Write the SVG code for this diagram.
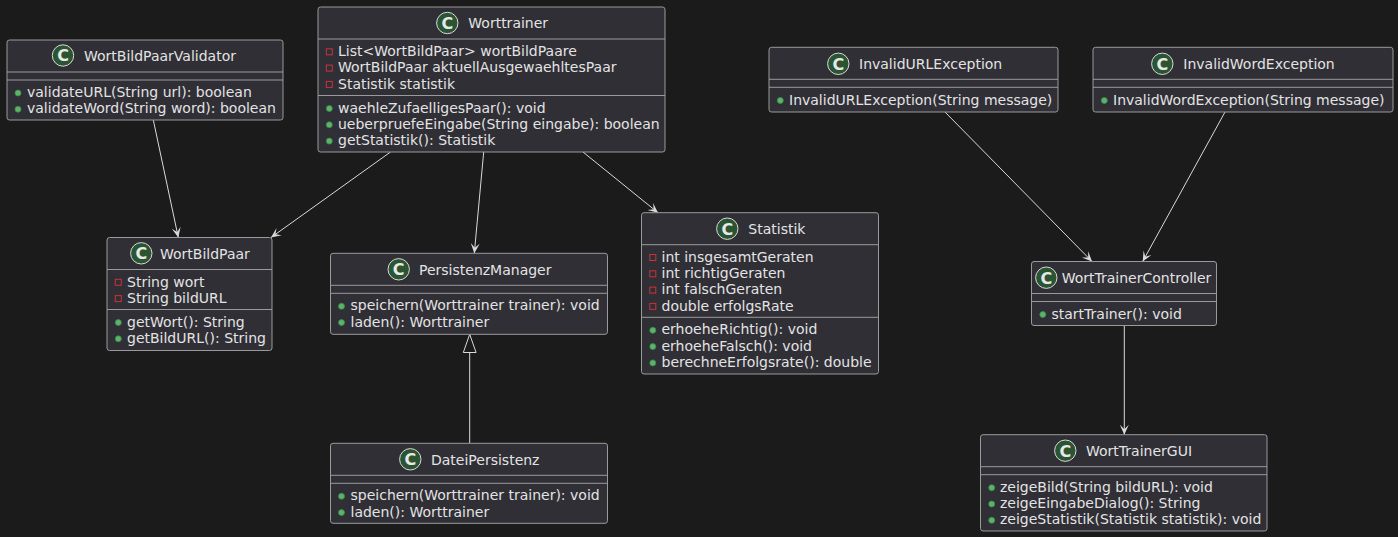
<svg xmlns="http://www.w3.org/2000/svg" width="1398" height="537" viewBox="0 0 1398 537">
<style>
.box{fill:#302f36;stroke:#9a9a9a;stroke-width:1}
.sep{stroke:#9a9a9a;stroke-width:1}
.t{font-family:"DejaVu Sans","Liberation Sans",sans-serif;font-size:14px;fill:#e3e3e3}
.spot{fill:#2b5532;stroke:#d8d8d8;stroke-width:1}
.sc{font-family:"DejaVu Sans","Liberation Sans",sans-serif;font-size:16px;font-weight:bold;fill:#e8e8e8;text-anchor:middle}
.pub{fill:#5cb36c;stroke:#3b8a4b;stroke-width:0.8}
.priv{fill:none;stroke:#c8323a;stroke-width:1}
.ln{stroke:#d9d9d9;stroke-width:1;fill:none}
</style>
<defs>
<marker id="arr" viewBox="0 0 11 10" refX="11" refY="5" markerWidth="11" markerHeight="10" markerUnits="userSpaceOnUse" orient="auto">
<path d="M11,5 L1,0.5 L5.5,5 L1,9.5 Z" fill="#d9d9d9"/>
</marker>
</defs>
<rect width="1398" height="537" fill="#1b1b1c"/>

<g id="connectors">
<line class="ln" x1="153.3" y1="120" x2="178.3" y2="237.5" marker-end="url(#arr)"/>
<line class="ln" x1="390.5" y1="152" x2="271" y2="237.5" marker-end="url(#arr)"/>
<line class="ln" x1="483.7" y1="152" x2="474.3" y2="253.3" marker-end="url(#arr)"/>
<line class="ln" x1="583" y1="152" x2="658" y2="212.7" marker-end="url(#arr)"/>
<line class="ln" x1="945" y1="112" x2="1092" y2="261.5" marker-end="url(#arr)"/>
<line class="ln" x1="1225" y1="112" x2="1142.7" y2="261.5" marker-end="url(#arr)"/>
<line class="ln" x1="1124.3" y1="325.5" x2="1124.3" y2="434.7" marker-end="url(#arr)"/>
<line class="ln" x1="469.7" y1="443.3" x2="469.7" y2="352.5"/>
<polygon points="469.7,334.3 463.3,352.5 476.1,352.5" fill="#1b1b1c" stroke="#d9d9d9" stroke-width="1"/>
</g>

<g id="WortBildPaarValidator">
<rect class="box" x="7" y="40" width="276" height="80" rx="2.5"/>
<line class="sep" x1="7" y1="72" x2="283" y2="72"/>
<line class="sep" x1="7" y1="80" x2="283" y2="80"/>
<circle class="spot" cx="63" cy="55.5" r="10.7"/>
<text class="sc" x="63" y="61.3">C</text>
<text class="t" x="84" y="60.8">WortBildPaarValidator</text>
<circle class="pub" cx="18" cy="93" r="3"/>
<text class="t" x="27" y="97">validateURL(String url): boolean</text>
<circle class="pub" cx="18" cy="109.3" r="3"/>
<text class="t" x="27" y="113.3">validateWord(String word): boolean</text>
</g>

<g id="Worttrainer">
<rect class="box" x="318" y="7" width="347" height="145" rx="2.5"/>
<line class="sep" x1="318" y1="39" x2="665" y2="39"/>
<line class="sep" x1="318" y1="95.5" x2="665" y2="95.5"/>
<circle class="spot" cx="447.3" cy="23" r="10.7"/>
<text class="sc" x="447.3" y="28.8">C</text>
<text class="t" x="468.3" y="28.3">Worttrainer</text>
<rect class="priv" x="326.3" y="48.8" width="6" height="6"/>
<text class="t" x="338" y="56">List&lt;WortBildPaar&gt; wortBildPaare</text>
<rect class="priv" x="326.3" y="65.1" width="6" height="6"/>
<text class="t" x="338" y="72.3">WortBildPaar aktuellAusgewaehltesPaar</text>
<rect class="priv" x="326.3" y="81.4" width="6" height="6"/>
<text class="t" x="338" y="88.6">Statistik statistik</text>
<circle class="pub" cx="329.3" cy="108.5" r="3"/>
<text class="t" x="338" y="112.5">waehleZufaelligesPaar(): void</text>
<circle class="pub" cx="329.3" cy="124.8" r="3"/>
<text class="t" x="338" y="128.8">ueberpruefeEingabe(String eingabe): boolean</text>
<circle class="pub" cx="329.3" cy="141.1" r="3"/>
<text class="t" x="338" y="145.1">getStatistik(): Statistik</text>
</g>

<g id="WortBildPaar">
<rect class="box" x="107" y="237.5" width="165" height="113" rx="2.5"/>
<line class="sep" x1="107" y1="269.5" x2="272" y2="269.5"/>
<line class="sep" x1="107" y1="309.5" x2="272" y2="309.5"/>
<circle class="spot" cx="141.3" cy="253.3" r="10.7"/>
<text class="sc" x="141.3" y="259.1">C</text>
<text class="t" x="160" y="258.6">WortBildPaar</text>
<rect class="priv" x="115.3" y="279.3" width="6" height="6"/>
<text class="t" x="127" y="286.5">String wort</text>
<rect class="priv" x="115.3" y="295.6" width="6" height="6"/>
<text class="t" x="127" y="302.8">String bildURL</text>
<circle class="pub" cx="118.3" cy="322.5" r="3"/>
<text class="t" x="127" y="326.5">getWort(): String</text>
<circle class="pub" cx="118.3" cy="338.8" r="3"/>
<text class="t" x="127" y="342.8">getBildURL(): String</text>
</g>

<g id="PersistenzManager">
<rect class="box" x="330.5" y="253.3" width="277" height="81" rx="2.5"/>
<line class="sep" x1="330.5" y1="285.3" x2="607.5" y2="285.3"/>
<line class="sep" x1="330.5" y1="293.3" x2="607.5" y2="293.3"/>
<circle class="spot" cx="398.7" cy="269.3" r="10.7"/>
<text class="sc" x="398.7" y="275.1">C</text>
<text class="t" x="419" y="274.6">PersistenzManager</text>
<circle class="pub" cx="341.5" cy="306.3" r="3"/>
<text class="t" x="350.5" y="310.3">speichern(Worttrainer trainer): void</text>
<circle class="pub" cx="341.5" cy="322.6" r="3"/>
<text class="t" x="350.5" y="326.6">laden(): Worttrainer</text>
</g>

<g id="DateiPersistenz">
<rect class="box" x="330.5" y="443.3" width="277" height="80" rx="2.5"/>
<line class="sep" x1="330.5" y1="475.3" x2="607.5" y2="475.3"/>
<line class="sep" x1="330.5" y1="483.3" x2="607.5" y2="483.3"/>
<circle class="spot" cx="410.3" cy="459.3" r="10.7"/>
<text class="sc" x="410.3" y="465.1">C</text>
<text class="t" x="431" y="464.6">DateiPersistenz</text>
<circle class="pub" cx="341.5" cy="496.3" r="3"/>
<text class="t" x="350.5" y="500.3">speichern(Worttrainer trainer): void</text>
<circle class="pub" cx="341.5" cy="512.6" r="3"/>
<text class="t" x="350.5" y="516.6">laden(): Worttrainer</text>
</g>

<g id="Statistik">
<rect class="box" x="641.5" y="212.7" width="237" height="161.3" rx="2.5"/>
<line class="sep" x1="641.5" y1="244.7" x2="878.5" y2="244.7"/>
<line class="sep" x1="641.5" y1="317.3" x2="878.5" y2="317.3"/>
<circle class="spot" cx="727.3" cy="228.7" r="10.7"/>
<text class="sc" x="727.3" y="234.5">C</text>
<text class="t" x="748.3" y="234">Statistik</text>
<rect class="priv" x="649.8" y="254.5" width="6" height="6"/>
<text class="t" x="661.5" y="261.7">int insgesamtGeraten</text>
<rect class="priv" x="649.8" y="270.8" width="6" height="6"/>
<text class="t" x="661.5" y="278">int richtigGeraten</text>
<rect class="priv" x="649.8" y="287.1" width="6" height="6"/>
<text class="t" x="661.5" y="294.3">int falschGeraten</text>
<rect class="priv" x="649.8" y="303.4" width="6" height="6"/>
<text class="t" x="661.5" y="310.6">double erfolgsRate</text>
<circle class="pub" cx="652.8" cy="330.3" r="3"/>
<text class="t" x="661.5" y="334.3">erhoeheRichtig(): void</text>
<circle class="pub" cx="652.8" cy="346.6" r="3"/>
<text class="t" x="661.5" y="350.6">erhoeheFalsch(): void</text>
<circle class="pub" cx="652.8" cy="362.9" r="3"/>
<text class="t" x="661.5" y="366.9">berechneErfolgsrate(): double</text>
</g>

<g id="InvalidURLException">
<rect class="box" x="769" y="47.3" width="289" height="64.7" rx="2.5"/>
<line class="sep" x1="769" y1="79.3" x2="1058" y2="79.3"/>
<line class="sep" x1="769" y1="87.3" x2="1058" y2="87.3"/>
<circle class="spot" cx="838.3" cy="63.8" r="10.7"/>
<text class="sc" x="838.3" y="69.6">C</text>
<text class="t" x="859" y="68.8">InvalidURLException</text>
<circle class="pub" cx="780.3" cy="100.5" r="3"/>
<text class="t" x="789" y="104.5">InvalidURLException(String message)</text>
</g>

<g id="InvalidWordException">
<rect class="box" x="1093" y="47.3" width="300" height="64.7" rx="2.5"/>
<line class="sep" x1="1093" y1="79.3" x2="1393" y2="79.3"/>
<line class="sep" x1="1093" y1="87.3" x2="1393" y2="87.3"/>
<circle class="spot" cx="1162.3" cy="63.8" r="10.7"/>
<text class="sc" x="1162.3" y="69.6">C</text>
<text class="t" x="1183.3" y="68.8">InvalidWordException</text>
<circle class="pub" cx="1104.3" cy="100.5" r="3"/>
<text class="t" x="1113" y="104.5">InvalidWordException(String message)</text>
</g>

<g id="WortTrainerController">
<rect class="box" x="1031.5" y="261.5" width="185" height="64" rx="2.5"/>
<line class="sep" x1="1031.5" y1="293.5" x2="1216.5" y2="293.5"/>
<line class="sep" x1="1031.5" y1="301.5" x2="1216.5" y2="301.5"/>
<circle class="spot" cx="1046.3" cy="277.7" r="10.7"/>
<text class="sc" x="1046.3" y="283.5">C</text>
<text class="t" x="1061.7" y="283">WortTrainerController</text>
<circle class="pub" cx="1042.8" cy="314.5" r="3"/>
<text class="t" x="1051.5" y="318.5">startTrainer(): void</text>
</g>

<g id="WortTrainerGUI">
<rect class="box" x="980.5" y="434.7" width="286.5" height="96.3" rx="2.5"/>
<line class="sep" x1="980.5" y1="466.7" x2="1267" y2="466.7"/>
<line class="sep" x1="980.5" y1="474.7" x2="1267" y2="474.7"/>
<circle class="spot" cx="1065.3" cy="450.7" r="10.7"/>
<text class="sc" x="1065.3" y="456.5">C</text>
<text class="t" x="1086" y="456">WortTrainerGUI</text>
<circle class="pub" cx="991.7" cy="487.7" r="3"/>
<text class="t" x="1000" y="491.7">zeigeBild(String bildURL): void</text>
<circle class="pub" cx="991.7" cy="504" r="3"/>
<text class="t" x="1000" y="508">zeigeEingabeDialog(): String</text>
<circle class="pub" cx="991.7" cy="520.3" r="3"/>
<text class="t" x="1000" y="524.3">zeigeStatistik(Statistik statistik): void</text>
</g>
</svg>
